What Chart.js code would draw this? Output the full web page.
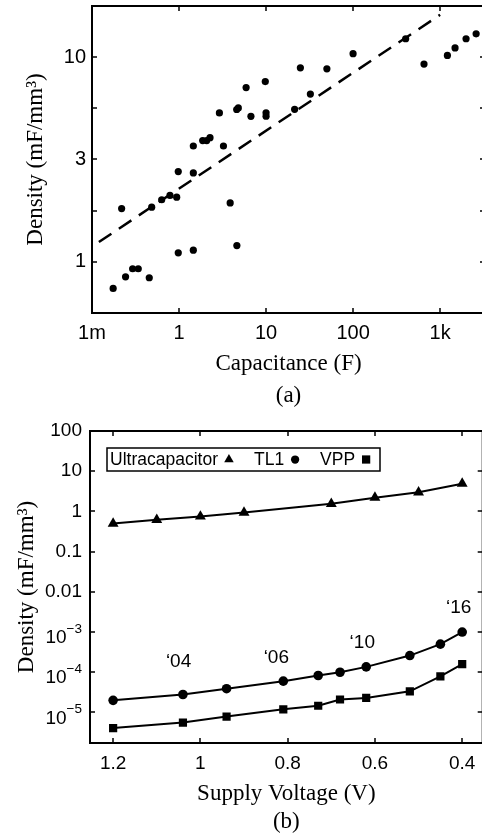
<!DOCTYPE html>
<html>
<head>
<meta charset="utf-8">
<script src="https://cdn.jsdelivr.net/npm/chart.js@4"></script>
<style>
html, body { margin: 0; padding: 0; background: #fff; overflow: hidden; width: 482px; height: 835px; }
#chartA { position: absolute; left: 0; top: 0; }
#chartB { position: absolute; left: 0; top: 412px; }
</style>
</head>
<body>
<canvas id="chartA" width="489" height="412"></canvas>
<canvas id="chartB" width="489" height="432"></canvas>
<script>
// (a) density vs capacitance
var capX = [402, 653, 1213, 1485, 1987, 2594, 100, 50, 24.8, 32.3, 21.3, 9.8, 10, 10, 5.9, 6.7, 4.6, 4.8, 2.91, 3.24,
            1.87, 2.08, 2.27, 1.46, 0.98, 1.46, 0.219, 0.485, 0.632, 0.787, 0.94, 3.87, 0.175, 0.243, 0.293, 0.34,
            0.455, 0.98, 1.46, 4.62];
var capY = [12.3, 9.25, 10.2, 11.1, 12.3, 13.0, 10.4, 8.77, 8.87, 6.6, 5.56, 7.6, 5.35, 5.15, 7.1, 5.14, 5.55, 5.65, 5.34, 3.68,
            3.91, 3.91, 4.04, 3.68, 2.76, 2.72, 1.82, 1.85, 2.01, 2.11, 2.07, 1.94, 0.741, 0.845, 0.925, 0.925,
            0.836, 1.106, 1.14, 1.2];
var fitX = [0.12, 1000];
var fitY = [1.25, 16.1];
var capTicksX = [0.1, 1, 10, 100, 1000];
var capTickLabelsX = ['1m', '1', '10', '100', '1k'];
var capTicksY = [1, 1.778, 3.162, 5.623, 10];
var capTickLabelsY = ['1', '', '3', '', '10'];

// (b) density vs supply voltage
var voltUltra = [1.2, 1.1, 1.0, 0.9, 0.7, 0.6, 0.5, 0.4];
var ultra = [0.5, 0.62, 0.75, 0.94, 1.55, 2.2, 3.0, 4.9];
var voltIc = [1.2, 1.04, 0.94, 0.81, 0.73, 0.68, 0.62, 0.52, 0.45, 0.4];
var tl1 = [2e-5, 2.8e-5, 3.9e-5, 6e-5, 8.3e-5, 1e-4, 1.36e-4, 2.6e-4, 5e-4, 1e-3];
var vpp = [4.1e-6, 5.6e-6, 7.9e-6, 1.2e-5, 1.47e-5, 2.1e-5, 2.3e-5, 3.35e-5, 7.9e-5, 1.6e-4];
var yearLabels = ['\u201804', '\u201806', '\u201810', '\u201816'];
var yearX = [1.05, 0.826, 0.629, 0.408];
var yearY = [1.84e-4, 2.3e-4, 5.5e-4, 4.1e-3];
var voltTicks = [1.2, 1, 0.8, 0.6, 0.4];
var voltTickLabels = ['1.2', '1', '0.8', '0.6', '0.4'];
var densTicks = [1e-5, 1e-4, 1e-3, 0.01, 0.1, 1, 10, 100];
var densTickLabels = ['', '', '', '0.01', '0.1', '1', '10', '100'];
// the small ticks are written as 10 with a raised exponent
var densTickExp = ['\u22125', '\u22124', '\u22123', '', '', '', '', ''];

var SANS = '"Liberation Sans", Arial, sans-serif';
var SERIF = '"Liberation Serif", "Times New Roman", serif';

function xy(xs, ys) {
  return xs.map(function (v, i) { return { x: v, y: ys[i] }; });
}

// box round the plot, with short ticks pointing inward on all four sides
var frameTicks = {
  id: 'frameTicks',
  afterDraw: function (chart) {
    var ctx = chart.ctx, a = chart.chartArea, sx = chart.scales.x, sy = chart.scales.y;
    ctx.save();
    ctx.strokeStyle = '#000';
    ctx.lineWidth = 1.5;
    ctx.beginPath();
    sx.ticks.forEach(function (t) {
      var p = Math.round(sx.getPixelForValue(t.value));
      ctx.moveTo(p, a.bottom); ctx.lineTo(p, a.bottom - 5);
      ctx.moveTo(p, a.top); ctx.lineTo(p, a.top + 5);
    });
    sy.ticks.forEach(function (t) {
      var p = Math.round(sy.getPixelForValue(t.value));
      ctx.moveTo(a.left, p); ctx.lineTo(a.left + 5, p);
      ctx.moveTo(a.right, p); ctx.lineTo(a.right - 5, p);
    });
    ctx.stroke();
    ctx.lineWidth = 2;
    ctx.strokeRect(a.left, a.top, a.right - a.left, a.bottom - a.top);
    ctx.restore();
  }
};

var expTicks = {
  id: 'expTicks',
  afterDraw: function (chart) {
    var ctx = chart.ctx, sy = chart.scales.y;
    var right = sy.right - 8;
    ctx.save();
    ctx.fillStyle = '#000';
    ctx.textBaseline = 'middle';
    densTickExp.forEach(function (e, i) {
      if (!e) return;
      var p = sy.getPixelForValue(densTicks[i]);
      ctx.font = '13.5px ' + SANS;
      var w = ctx.measureText(e).width;
      ctx.textAlign = 'left';
      ctx.fillText(e, right - w, p - 3);
      ctx.font = '19px ' + SANS;
      ctx.textAlign = 'right';
      ctx.fillText('10', right - w, p + 6);
    });
    ctx.restore();
  }
};

function marker(ctx, style, x, y, r) {
  ctx.beginPath();
  if (style === 'triangle') {
    ctx.moveTo(x, y - r);
    ctx.lineTo(x + r * 0.866, y + r * 0.5);
    ctx.lineTo(x - r * 0.866, y + r * 0.5);
    ctx.closePath();
  } else if (style === 'rect') {
    ctx.rect(x - r * 0.75, y - r * 0.75, r * 1.5, r * 1.5);
  } else {
    ctx.arc(x, y, r * 0.75, 0, Math.PI * 2);
  }
  ctx.fill();
}

// matlab-style legend: label first, marker after, in a box inside the plot
var boxLegend = {
  id: 'boxLegend',
  afterDraw: function (chart) {
    var ctx = chart.ctx, a = chart.chartArea;
    var left = a.left + 17, top = a.top + 17, w = 273, h = 23;
    ctx.save();
    ctx.fillStyle = '#fff';
    ctx.fillRect(left, top, w, h);
    ctx.strokeStyle = '#000';
    ctx.lineWidth = 1.5;
    ctx.strokeRect(left, top, w, h);
    ctx.font = '17.5px ' + SANS;
    ctx.textBaseline = 'middle';
    ctx.fillStyle = '#000';
    var x = left + 3, y = top + h / 2 + 1;
    chart.data.datasets.forEach(function (ds) {
      ctx.fillText(ds.label, x, y);
      x += ctx.measureText(ds.label).width + 11;
      marker(ctx, ds.pointStyle, x, y - 1, 5.5);
      x += 25;
    });
    ctx.restore();
  }
};

var yearNotes = {
  id: 'yearNotes',
  afterDatasetsDraw: function (chart) {
    var ctx = chart.ctx, sx = chart.scales.x, sy = chart.scales.y;
    ctx.save();
    ctx.font = '19px ' + SANS;
    ctx.fillStyle = '#000';
    ctx.textAlign = 'center';
    ctx.textBaseline = 'middle';
    yearLabels.forEach(function (t, i) {
      ctx.fillText(t, sx.getPixelForValue(yearX[i]), sy.getPixelForValue(yearY[i]));
    });
    ctx.restore();
  }
};

var chartA = new Chart(document.getElementById('chartA'), {
  type: 'scatter',
  data: {
    datasets: [
      {
        label: 'devices',
        data: xy(capX, capY),
        pointRadius: 3.6,
        pointBackgroundColor: '#000',
        pointBorderColor: '#000',
        pointBorderWidth: 0,
        showLine: false
      },
      {
        label: 'fit',
        data: xy(fitX, fitY),
        showLine: true,
        pointRadius: 0,
        borderColor: '#000',
        borderWidth: 2.5,
        borderDash: [15, 9]
      }
    ]
  },
  options: {
    animation: false,
    responsive: false,
    events: [],
    layout: { padding: { top: 6, right: 2, left: 0, bottom: 0 } },
    plugins: { legend: { display: false }, tooltip: { enabled: false } },
    scales: {
      x: {
        type: 'logarithmic',
        min: 0.1,
        max: 3280,
        afterBuildTicks: function (s) { s.ticks = capTicksX.map(function (v) { return { value: v }; }); },
        afterFit: function (s) { s.height = 412 - 313; s.paddingLeft = 0; s.paddingRight = 0; },
        grid: { display: false, drawTicks: false },
        border: { display: false },
        ticks: {
          autoSkip: false, maxRotation: 0, padding: 8, color: '#000',
          font: { family: SANS, size: 20 },
          callback: function (v, i) { return capTickLabelsX[i]; }
        },
        title: {
          display: true, text: ['Capacitance (F)', '(a)'], color: '#000',
          font: { family: SERIF, size: 23, lineHeight: 1.35 },
          padding: { top: 0, bottom: 1 }
        }
      },
      y: {
        type: 'logarithmic',
        min: 0.5623,
        max: 17.78,
        afterBuildTicks: function (s) { s.ticks = capTicksY.map(function (v) { return { value: v }; }); },
        afterFit: function (s) { s.width = 92; s.paddingTop = 0; s.paddingBottom = 0; },
        grid: { display: false, drawTicks: false },
        border: { display: false },
        ticks: {
          autoSkip: false, padding: 6, color: '#000',
          font: { family: SANS, size: 20 },
          callback: function (v, i) { return capTickLabelsY[i]; }
        },
        title: {
          display: true, text: 'Density (mF/mm\u00B3)', color: '#000',
          font: { family: SERIF, size: 23 },
          padding: { top: 22, bottom: 0 }
        }
      }
    }
  },
  plugins: [frameTicks]
});

var chartB = new Chart(document.getElementById('chartB'), {
  type: 'scatter',
  data: {
    datasets: [
      {
        label: 'Ultracapacitor',
        data: xy(voltUltra, ultra),
        pointStyle: 'triangle',
        pointRadius: 6.3
      },
      {
        label: 'TL1',
        data: xy(voltIc, tl1),
        pointStyle: 'circle',
        pointRadius: 4.8
      },
      {
        label: 'VPP',
        data: xy(voltIc, vpp),
        pointStyle: 'rect',
        pointRadius: 5.8
      }
    ].map(function (ds) {
      ds.showLine = true;
      ds.borderColor = '#000';
      ds.backgroundColor = '#000';
      ds.pointBackgroundColor = '#000';
      ds.pointBorderColor = '#000';
      ds.borderWidth = 2;
      ds.pointBorderWidth = 0;
      return ds;
    })
  },
  options: {
    animation: false,
    responsive: false,
    events: [],
    layout: { padding: { top: 19, right: 2, left: 0, bottom: 0 } },
    plugins: { legend: { display: false }, tooltip: { enabled: false } },
    scales: {
      x: {
        type: 'linear',
        reverse: true,
        min: 0.353,
        max: 1.253,
        afterBuildTicks: function (s) { s.ticks = voltTicks.map(function (v) { return { value: v }; }); },
        afterFit: function (s) { s.height = 101; s.paddingLeft = 0; s.paddingRight = 0; },
        grid: { display: false, drawTicks: false },
        border: { display: false },
        ticks: {
          autoSkip: false, maxRotation: 0, padding: 9, color: '#000',
          font: { family: SANS, size: 19 },
          callback: function (v, i) { return voltTickLabels[i]; }
        },
        title: {
          display: true, text: ['Supply Voltage (V)', '(b)'], color: '#000',
          font: { family: SERIF, size: 23, lineHeight: 1.217 },
          padding: { top: 0, bottom: 8 }
        }
      },
      y: {
        type: 'logarithmic',
        min: 1.74e-6,
        max: 100,
        afterBuildTicks: function (s) { s.ticks = densTicks.map(function (v) { return { value: v }; }); },
        afterFit: function (s) { s.width = 90; s.paddingTop = 0; s.paddingBottom = 0; },
        grid: { display: false, drawTicks: false },
        border: { display: false },
        ticks: {
          autoSkip: false, padding: 8, color: '#000',
          font: { family: SANS, size: 19 },
          callback: function (v, i) { return densTickLabels[i]; }
        },
        title: {
          display: true, text: 'Density (mF/mm\u00B3)', color: '#000',
          font: { family: SERIF, size: 23 },
          padding: { top: 13, bottom: 0 }
        }
      }
    }
  },
  plugins: [frameTicks, expTicks, yearNotes, boxLegend]
});
</script>
</body>
</html>
